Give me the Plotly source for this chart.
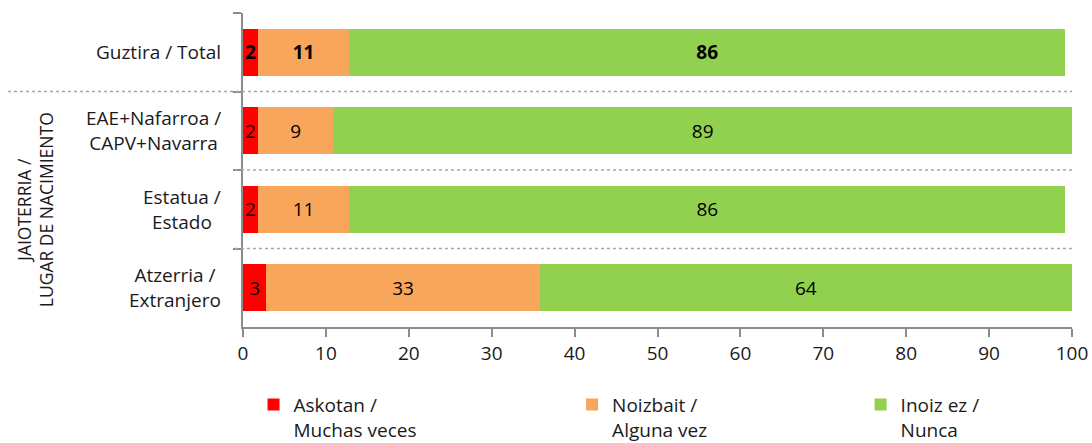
import plotly.graph_objects as go

categories = ["Guztira / Total", "EAE+Nafarroa /<br>CAPV+Navarra", "Estatua /<br>Estado", "Atzerria /<br>Extranjero"]
series_names = ["Askotan /<br>Muchas veces", "Noizbait /<br>Alguna vez", "Inoiz ez /<br>Nunca"]
askotan = [1.8, 1.8, 1.8, 2.8]
noizbait = [11.0, 9.1, 11.0, 33.0]
inoiz_ez = [86.4, 89.1, 86.4, 64.2]
colors = ["#FF0000", "#F8A65C", "#92D050"]
group_title = "JAIOTERRIA /<br>LUGAR DE NACIMIENTO"
x_ticks = [0, 10, 20, 30, 40, 50, 60, 70, 80, 90, 100]

FONT = "Open Sans"
FS = 19
TXT = "#1a1a1a"

fig = go.Figure()
legend_ids = ["legend", "legend2", "legend3"]
for i, (name, vals) in enumerate(zip(series_names, [askotan, noizbait, inoiz_ez])):
    labels = []
    for j, v in enumerate(vals):
        s = f"{round(v):d}"
        labels.append(f"<b>{s}</b>" if j == 0 else s)
    fig.add_trace(go.Bar(
        y=categories, x=vals, name=name, orientation="h",
        marker=dict(color=colors[i], line=dict(width=0)),
        text=labels, textposition="inside", insidetextanchor="middle",
        constraintext="none",
        textfont=dict(family=FONT, size=FS, color="#000000"),
        legend=legend_ids[i], showlegend=True,
    ))

fig.update_layout(
    barmode="stack", bargap=0.4, showlegend=True,
    width=1092, height=443,
    margin=dict(l=243, r=20, t=13, b=116, autoexpand=False),
    plot_bgcolor="white", paper_bgcolor="white",
    font=dict(family=FONT, size=FS, color=TXT),
    xaxis=dict(range=[0, 100], tickvals=x_ticks, showgrid=False, zeroline=False,
               showline=True, linecolor="#8c8c8c", linewidth=1.5,
               ticks="outside", ticklen=8, tickcolor="#8c8c8c", tickwidth=1.5,
               tickfont=dict(family=FONT, size=FS, color=TXT)),
    yaxis=dict(categoryorder="array", categoryarray=categories, autorange="reversed",
               showgrid=False, zeroline=False, showticklabels=False,
               showline=True, linecolor="#8c8c8c", linewidth=1.5,
               ticks="outside", ticklen=8, tickcolor="#8c8c8c", tickwidth=1.5,
               tickson="boundaries"),
)

leg_x = [0.0127, 0.397, 0.745]
for lid, lx in zip(legend_ids, leg_x):
    fig.update_layout({lid: dict(x=lx, y=-0.187, xanchor="left", yanchor="top",
                                  orientation="h", valign="top",
                                  font=dict(family=FONT, size=FS, color=TXT),
                                  bgcolor="rgba(0,0,0,0)")})

# category labels
for c in categories:
    fig.add_annotation(x=0, xref="paper", y=c, yref="y", text=c, showarrow=False,
                       xanchor="right", align="center", xshift=-20,
                       font=dict(family=FONT, size=FS, color=TXT))

# group title
fig.add_annotation(x=-0.251, xref="paper", y=categories[2], yref="y", text=group_title,
                   showarrow=False, textangle=-90, align="center", xanchor="center", yanchor="middle",
                   font=dict(family=FONT, size=17.5, color=TXT))

# dotted separators
sep_starts = [-0.2835, -0.0097, -0.0097]
for k, xs in enumerate(sep_starts):
    fig.add_shape(type="line", xref="paper", yref="y", x0=xs, x1=1, y0=k + 0.5, y1=k + 0.5,
                  line=dict(color="#a6a6a6", width=1.5, dash="dot"))

fig.write_html("out.html", config={"displayModeBar": False},
               post_script="document.body.style.margin='0';document.body.style.overflow='hidden';")
